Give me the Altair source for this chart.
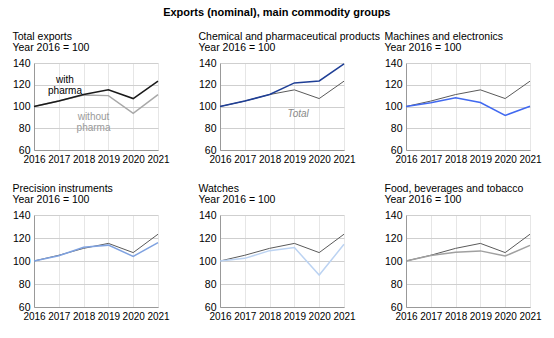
import altair as alt
import pandas as pd

years = [2016, 2017, 2018, 2019, 2020, 2021]
total_with_pharma = [100, 105, 111, 115.3, 107.3, 123.3]
total_without_pharma = [100, 105, 110.5, 110, 93.8, 111]
chemical = [100, 105, 111, 121.7, 123.5, 139.2]
machines = [100, 103.5, 108, 103.6, 91.8, 100.3]
precision = [100, 104.5, 112, 113.8, 104, 116]
watches = [100, 102.3, 109, 111.7, 87.8, 114.5]
food = [100, 104.8, 107.7, 108.8, 104.3, 113.6]

panel_titles = [
    "Total exports",
    "Chemical and pharmaceutical products",
    "Machines and electronics",
    "Precision instruments",
    "Watches",
    "Food, beverages and tobacco",
]
subtitle = "Year 2016 = 100"

# annotations: (text, year, value)
ann_with = ("with\npharma", 2017.25, 124.5)
ann_without = ("without\npharma", 2018.4, 90.5)
ann_total = ("Total", 2019.15, 93.5)

FONT = "Liberation Sans"
W = 124


def X():
    return alt.X("year:Q", scale=alt.Scale(domain=[2016, 2021], nice=False),
                 axis=alt.Axis(values=years, format="d", title=None,
                               labelOverlap=False, labelFlush=False))


def Y():
    return alt.Y("value:Q", scale=alt.Scale(domain=[60, 140], nice=False),
                 axis=alt.Axis(values=[60, 80, 100, 120, 140], title=None,
                               labelOverlap=False))


def line_layer(vals, color, width):
    df = pd.DataFrame({"year": years, "value": vals})
    return alt.Chart(df).mark_line(color=color, strokeWidth=width).encode(x=X(), y=Y())


def text_layer(ann, color, italic=False):
    df = pd.DataFrame({"t": [ann[0]], "year": [ann[1]], "value": [ann[2]]})
    return alt.Chart(df).mark_text(
        color=color, font=FONT, fontSize=10, lineBreak="\n", lineHeight=11,
        fontStyle="italic" if italic else "normal", align="center", baseline="middle"
    ).encode(x=X(), y=Y(), text="t:N")


def panel(i, layers, h):
    return alt.layer(*layers).properties(
        width=W, height=h,
        title=alt.TitleParams([panel_titles[i], subtitle], anchor="start",
                              font=FONT, fontSize=10.5, fontWeight="normal",
                              color="#000", lineHeight=11, offset=5),
    )


TOT = "#5a5a5a"
p1 = panel(0, [line_layer(total_without_pharma, "#a8a8a8", 1.5),
               line_layer(total_with_pharma, "#1a1a1a", 1.5),
               text_layer(ann_with, "#000"),
               text_layer(ann_without, "#9a9a9a")], 87)
p2 = panel(1, [line_layer(total_with_pharma, TOT, 1),
               line_layer(chemical, "#1f3f96", 1.5),
               text_layer(ann_total, "#8a8a8a", italic=True)], 87)
p3 = panel(2, [line_layer(total_with_pharma, TOT, 1),
               line_layer(machines, "#4169f0", 1.5)], 87)
p4 = panel(3, [line_layer(total_with_pharma, TOT, 1),
               line_layer(precision, "#7fa2e0", 1.5)], 92)
p5 = panel(4, [line_layer(total_with_pharma, TOT, 1),
               line_layer(watches, "#bcd3f2", 1.5)], 92)
p6 = panel(5, [line_layer(total_with_pharma, TOT, 1),
               line_layer(food, "#a0a0a0", 1.5)], 92)

chart = alt.vconcat(
    alt.hconcat(p1, p2, p3, spacing=62, bounds="flush"),
    alt.hconcat(p4, p5, p6, spacing=62, bounds="flush"),
    spacing=19,
).properties(
    title=alt.TitleParams("Exports (nominal), main commodity groups", anchor="middle",
                          font=FONT, fontSize=11, fontWeight="bold", color="#000",
                          offset=14),
    padding={"left": 12, "top": 6, "right": 5, "bottom": 5},
).configure_view(stroke=None).configure_axis(
    labelFont=FONT, labelFontSize=10.5, labelColor="#000", ticks=False,
    labelPadding=4, domainColor="#999", gridColor="#cfcfcf", gridWidth=1,
).configure_axisX(gridColor="#e6e6e6", labelPadding=4, labelFontSize=10)

chart.save("out.html", embed_options={"renderer": "svg", "actions": False})
